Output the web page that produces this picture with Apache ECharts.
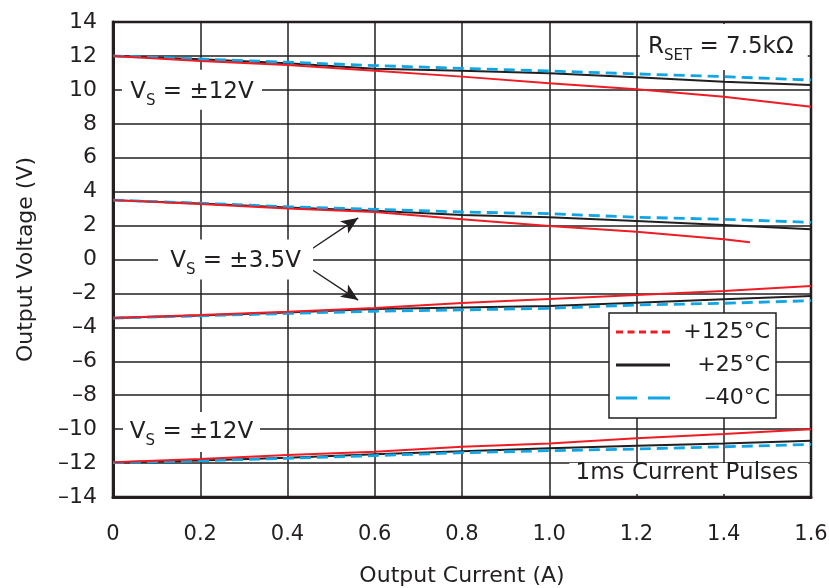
<!DOCTYPE html>
<html>
<head>
<meta charset="utf-8">
<script src="https://cdn.jsdelivr.net/npm/echarts@6/dist/echarts.min.js"></script>
<style>html,body{margin:0;padding:0;background:#fff}#c{width:829px;height:588px}</style>
</head>
<body>
<div id="c"></div>
<script>
// ---- data ----
const currentA = [0, 0.2, 0.4, 0.6, 0.8, 1.0, 1.2, 1.4, 1.6];
const temps = ['+125°C', '+25°C', '–40°C'];
// Vs = ±12V, positive swing
const pos12_125 = [12.0, 11.70, 11.47, 11.12, 10.78, 10.39, 10.03, 9.60, 9.01];
const pos12_25  = [12.0, 11.80, 11.57, 11.25, 11.12, 10.98, 10.74, 10.48, 10.29];
const pos12_m40 = [12.0, 11.82, 11.63, 11.43, 11.27, 11.11, 10.94, 10.78, 10.58];
// Vs = ±3.5V, positive swing (125°C ends at 1.46A)
const pos35_125_x = [0, 0.2, 0.4, 0.6, 0.8, 1.0, 1.2, 1.4, 1.46];
const pos35_125 = [3.5, 3.27, 3.00, 2.80, 2.37, 1.98, 1.64, 1.19, 1.01];
const pos35_25  = [3.5, 3.30, 3.07, 2.88, 2.62, 2.49, 2.27, 2.03, 1.78];
const pos35_m40 = [3.5, 3.32, 3.11, 2.96, 2.80, 2.70, 2.49, 2.37, 2.19];
// Vs = ±3.5V, negative swing
const neg35_125 = [-3.45, -3.27, -3.08, -2.86, -2.56, -2.33, -2.09, -1.86, -1.56];
const neg35_25  = [-3.45, -3.30, -3.13, -2.92, -2.83, -2.74, -2.55, -2.35, -2.15];
const neg35_m40 = [-3.45, -3.32, -3.18, -3.05, -2.97, -2.88, -2.68, -2.58, -2.43];
// Vs = ±12V, negative swing
const neg12_125 = [-11.95, -11.76, -11.53, -11.33, -11.04, -10.84, -10.54, -10.29, -10.01];
const neg12_25  = [-11.97, -11.85, -11.68, -11.48, -11.30, -11.13, -10.98, -10.84, -10.68];
const neg12_m40 = [-11.97, -11.87, -11.72, -11.56, -11.39, -11.27, -11.17, -11.04, -10.90];

const xTicks = [0, 0.2, 0.4, 0.6, 0.8, 1.0, 1.2, 1.4, 1.6];
const yTicks = [-14, -12, -10, -8, -6, -4, -2, 0, 2, 4, 6, 8, 10, 12, 14];

// ---- style ----
const FONT = 'DejaVu Sans';
const INK = '#231f20';
const RED = '#ee1c25';
const BLUE = '#12a5e3';
const styles = {
  '+125°C': {color: RED, width: 2, type: 'solid'},
  '+25°C': {color: INK, width: 2, type: 'solid'},
  '–40°C': {color: BLUE, width: 2.8, type: [11, 6]}
};

function pairs(xs, ys) { return xs.map((x, i) => [x, ys[i]]); }
function mk(name, xs, ys) {
  const s = styles[name];
  return {
    name: name, type: 'line', symbol: 'none', silent: true,
    data: pairs(xs, ys),
    lineStyle: {color: s.color, width: s.width, type: s.type},
    itemStyle: {color: s.color},
    z: name === '–40°C' ? 4 : (name === '+25°C' ? 3 : 5)
  };
}

const series = [
  mk('+25°C', currentA, pos12_25), mk('–40°C', currentA, pos12_m40), mk('+125°C', currentA, pos12_125),
  mk('+25°C', currentA, pos35_25), mk('–40°C', currentA, pos35_m40), mk('+125°C', pos35_125_x, pos35_125),
  mk('+25°C', currentA, neg35_25), mk('–40°C', currentA, neg35_m40), mk('+125°C', currentA, neg35_125),
  mk('+25°C', currentA, neg12_25), mk('–40°C', currentA, neg12_m40), mk('+125°C', currentA, neg12_125)
];

const noteRich = {
  v: {fontFamily: FONT, fontSize: 23, color: INK},
  s: {fontFamily: FONT, fontSize: 15, color: INK, padding: [18, 0, 0, 0]}
};
function note(coord, size, text, offset) {
  return {
    coord: coord, symbol: 'rect', symbolSize: size,
    itemStyle: {color: '#fff'},
    label: {show: true, position: 'inside', formatter: text, rich: noteRich, offset: offset || [0, 0]}
  };
}

series.push({
  name: 'notes', type: 'line', data: [], silent: true, z: 6,
  markPoint: {
    silent: true, animation: false,
    data: [
      note([0.181, 10.0], [140, 40], '{v|V}{s|S}{v| = ±12V}', [0, 2]),
      note([0.281, 0.0], [155, 40], '{v|V}{s|S}{v| = ±3.5V}', [0, 2]),
      note([0.18, -10.17], [137, 40], '{v|V}{s|S}{v| = ±12V}', [0, 0]),
      note([1.40, 12.53], [168, 46], '{v|R}{s|SET}{v| = 7.5kΩ}', [-3, 0]),
      note([1.32, -12.91], [239, 31], '{v|1ms Current Pulses}', [-2, -5])
    ]
  },
  markLine: {
    silent: true, animation: false,
    symbol: ['none', 'arrow'], symbolSize: [11, 17],
    label: {show: false},
    lineStyle: {color: INK, width: 1.4, type: 'solid'},
    data: [
      [{coord: [0.452, 0.56]}, {coord: [0.562, 2.45]}],
      [{coord: [0.447, -0.44]}, {coord: [0.562, -2.39]}]
    ]
  }
});

const ICON_RED = 'path://M0,0h7v3h-7z M11.5,0h7v3h-7z M23,0h7v3h-7z M34.5,0h7v3h-7z M46,0h8v3h-8z';
const ICON_BLACK = 'path://M0,0h54v3h-54z';
const ICON_BLUE = 'path://M0,0h21v3h-21z M32,0h22v3h-22z';

const chart = echarts.init(document.getElementById('c'), null, {renderer: 'canvas'});
chart.setOption({
  animation: false,
  backgroundColor: '#fff',
  textStyle: {fontFamily: FONT},
  grid: {left: 113, right: 18, top: 22, bottom: 91, show: true, borderColor: INK, borderWidth: 2.5,
    containLabel: false, outerBoundsMode: 'none'},
  xAxis: {
    type: 'value', min: xTicks[0], max: xTicks[xTicks.length - 1], interval: 0.2,
    name: 'Output Current (A)', nameLocation: 'middle', nameGap: 68,
    nameTextStyle: {fontFamily: FONT, fontSize: 22, color: INK},
    axisLine: {show: true, onZero: false, lineStyle: {color: INK, width: 3}},
    axisTick: {show: false},
    axisLabel: {fontFamily: FONT, fontSize: 21, color: INK, margin: 27,
      formatter: v => Math.abs(v) < 1e-9 ? '0' : v.toFixed(1)},
    splitLine: {show: true, lineStyle: {color: INK, width: 1.5}}
  },
  yAxis: {
    type: 'value', min: yTicks[0], max: yTicks[yTicks.length - 1], interval: 2,
    name: 'Output Voltage (V)', nameLocation: 'middle', nameGap: 76,
    nameTextStyle: {fontFamily: FONT, fontSize: 22, color: INK},
    axisLine: {show: true, onZero: false, lineStyle: {color: INK, width: 3}},
    axisTick: {show: false},
    axisLabel: {fontFamily: FONT, fontSize: 22, color: INK, margin: 16,
      formatter: v => v < 0 ? '–' + Math.abs(v) : String(v)},
    splitLine: {show: true, lineStyle: {color: INK, width: 1.5}}
  },
  legend: {
    orient: 'vertical', left: 609, top: 313,
    backgroundColor: '#fff', borderColor: INK, borderWidth: 1.5,
    padding: [8, 6, 9, 7], itemGap: 11, itemWidth: 54, itemHeight: 3,
    selectedMode: false,
    formatter: n => '{t|' + n + '}',
    textStyle: {rich: {t: {fontFamily: FONT, fontSize: 22, lineHeight: 23, color: INK, width: 95, align: 'right'}}},
    data: [
      {name: '+125°C', icon: ICON_RED, itemStyle: {color: RED}},
      {name: '+25°C', icon: ICON_BLACK, itemStyle: {color: INK}},
      {name: '–40°C', icon: ICON_BLUE, itemStyle: {color: BLUE}}
    ]
  },
  series: series
});
</script>
</body>
</html>
